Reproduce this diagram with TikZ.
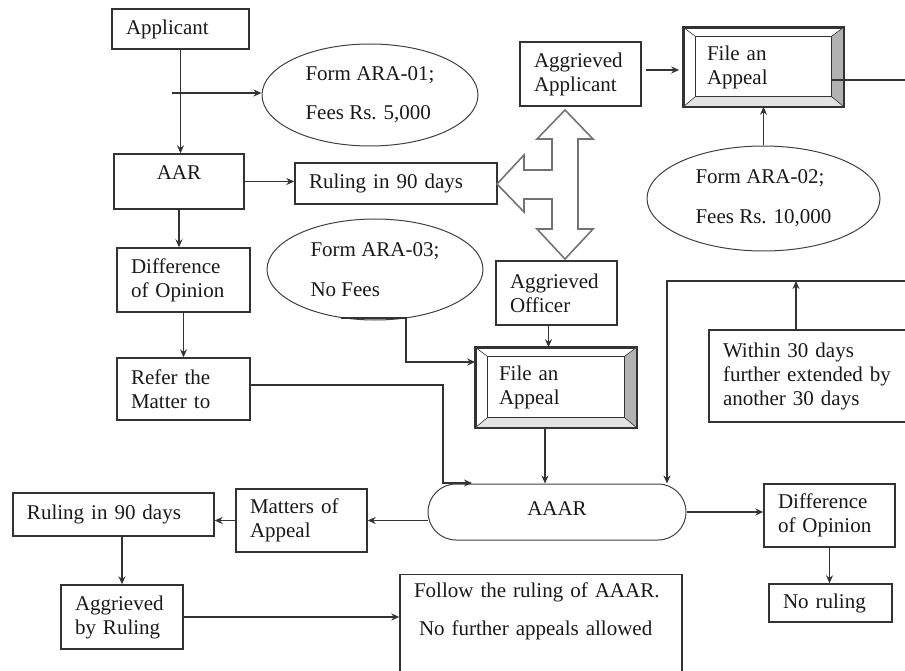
\documentclass[tikz,border=0pt]{standalone}
\usepackage{fontspec}
\setmainfont{Liberation Serif}
\usetikzlibrary{positioning, shapes.geometric, calc, arrows.meta}

\tikzset{
  box/.style={draw=black!80, line width=1.4pt, text=black!90, align=left, inner xsep=14pt, inner ysep=4pt},
  bevel/.style={draw=black!80, line width=1.6pt, text=black!90, align=left, inner xsep=23pt},
  oval/.style={ellipse, draw=black!75, line width=1pt, text=black!90, align=left, inner sep=0pt},
  hollow/.style={draw=black!55, line width=1.6pt, line join=miter}
}

\begin{document}
\begin{tikzpicture}[x=1pt, y=-1pt, >={Stealth[length=8pt, width=7pt]}, line width=1.3pt, draw=black!80,
    font=\fontsize{21}{24}\selectfont]
    \useasboundingbox (0,0) rectangle (905,671);
    \clip (0,0) rectangle (905,671);

    % Left column
    \node[box, text width=109pt, minimum height=40pt] (appl) at (180.5,29) {Applicant};
    \node[box, text width=102pt, minimum height=55pt, align=center, text depth=18pt] (aar) at (179,181.5) {AAR};
    \node[box, text width=105pt, minimum height=64pt] (dif1) at (183.5,280) {Difference\\of Opinion};
    \node[box, text width=105pt, minimum height=62pt] (refer) at (183.5,389) {Refer the\\Matter to};

    % Forms and fees
    \node[oval, minimum width=216pt, minimum height=102pt] (ell1) at (370,95) {Form ARA-01;\\[15pt]Fees Rs. 5,000};
    \node[oval, minimum width=216pt, minimum height=101pt] (ell3) at (375,269.5) {Form ARA-03;\\[16pt]No Fees};
    \node[oval, minimum width=233pt, minimum height=105pt] (ell2) at (763.5,198.5) {Form ARA-02;\\[16pt]Fees Rs. 10,000};

    % Ruling and the aggrieved parties
    \node[box, text width=174pt, minimum height=41pt] (rul1) at (396,183.5) {Ruling in 90 days};
    \node[box, text width=93pt, minimum height=64pt] (aggA) at (580.5,74) {Aggrieved\\Applicant};
    \node[box, text width=93pt, minimum height=64pt] (aggO) at (556.5,293) {Aggrieved\\Officer};

    % Appeals
    \node[bevel, text width=113pt, minimum height=78pt] (fileA) at (763.5,67) {File an\\Appeal};
    \node[bevel, text width=114pt, minimum height=79pt] (fileB) at (556,387.5) {File an\\Appeal};
    \foreach \f in {fileA, fileB} {
        \fill[gray!60] (\f.north east) -- (\f.south east) -- ($(\f.south east)+(-12,-10)$) -- ($(\f.north east)+(-12,9)$) -- cycle;
        \fill[gray!22] (\f.south west) -- (\f.south east) -- ($(\f.south east)+(-12,-10)$) -- ($(\f.south west)+(12,-10)$) -- cycle;
        \draw[line width=0.9pt] ($(\f.north west)+(12,9)$) rectangle ($(\f.south east)+(-12,-10)$);
        \draw[line width=0.6pt] (\f.north west) -- ++(12,9) (\f.north east) -- ++(-12,9)
            (\f.south west) -- ++(12,-10) (\f.south east) -- ++(-12,-10);
        \draw[line width=1.6pt] (\f.north west) rectangle (\f.south east);
    }

    % AAAR and what follows
    \node[draw=black!75, line width=1pt, rounded corners=28pt, minimum width=258pt, minimum height=56pt,
        text=black!90, text depth=7pt] (aaar) at (557,512) {AAAR};
    \node[box, text width=188pt, minimum height=92pt] (within) at (817,376) {Within 30 days\\further extended by\\another 30 days};
    \node[box, text width=103pt, minimum height=63pt] (dif2) at (829.5,515.5) {Difference\\of Opinion};
    \node[box, text width=95pt, minimum height=38pt] (norul) at (830.5,603) {No ruling};
    \node[box, text width=103pt, minimum height=63pt] (mat) at (301.5,520.5) {Matters of\\Appeal};
    \node[box, text width=173pt, minimum height=43pt] (rul2) at (113.5,514.5) {Ruling in 90 days};
    \node[box, text width=94pt, minimum height=64pt] (aggR) at (122,617) {Aggrieved\\by Ruling};
    \node[box, anchor=north, text width=254pt, inner ysep=8pt, text depth=95pt] (follow) at (541,574)
        {Follow the ruling of AAAR.\\[14pt]\hspace*{5pt}No further appeals allowed};

    % Connectors
    \coordinate (tick) at (172,93);
    \coordinate (aaarIn) at (472,483);
    \coordinate (loopR) at (915,281);
    \draw[->] (appl.south) -- (appl.south |- aar.north);
    \draw[->] (tick) -- (tick -| ell1.west);
    \draw[->] (aar.east) -- (aar.east -| rul1.west);
    \draw[->] (aar.south) -- (aar.south |- dif1.north);
    \draw[->] (dif1.south) -- (dif1.south |- refer.north);
    \draw[->] ([yshift=4pt]refer.east) -| ([xshift=-29pt]aaarIn) -- (aaarIn);
    \draw[->] (ell3.235) -- ++(65,0) |- ($(fileB.west)+(0,-25.5)$);
    \draw[->] ($(aggA.east)+(4,-4)$) -- ($(aggA.east -| fileA.west)+(-4,-4)$);
    \draw[->] (ell2.north) -- (fileA.south);
    \draw ($(fileA.east)+(-12,13)$) -- ++(90,0);
    \draw[->] ([xshift=-8pt]aggO.south) -- ([xshift=-8pt]aggO.south |- fileB.north);
    \draw[->] ([xshift=-11pt]fileB.south) -- ([xshift=-11pt]fileB.south |- aaar.north);
    \draw[->] (loopR) -| ([xshift=110pt]aaar.north);
    \draw[->] ([xshift=-21pt]within.north) -- ([xshift=-21pt]within.north |- loopR);
    \draw[->] (aaar.east) -- (aaar.east -| dif2.west);
    \draw[->] (dif2.south) -- (dif2.south |- norul.north);
    \draw[->] (mat.east -| aaar.west) -- (mat.east);
    \draw[->] (mat.west) -- (mat.west -| rul2.east);
    \draw[->] (aggR.north |- rul2.south) -- (aggR.north);
    \draw[->] (aggR.east) -- (aggR.east -| follow.west);

    % Three-way hollow arrow
    \draw[hollow] (565,110) -- (593,139) -- (578,139) -- (578,229) -- (593,229) -- (565,259)
        -- (537,229) -- (552,229) -- (552,199) -- (524,199) -- (524,212) -- (497,184)
        -- (524,155) -- (524,170) -- (552,170) -- (552,139) -- (537,139) -- cycle;
\end{tikzpicture}
\end{document}
